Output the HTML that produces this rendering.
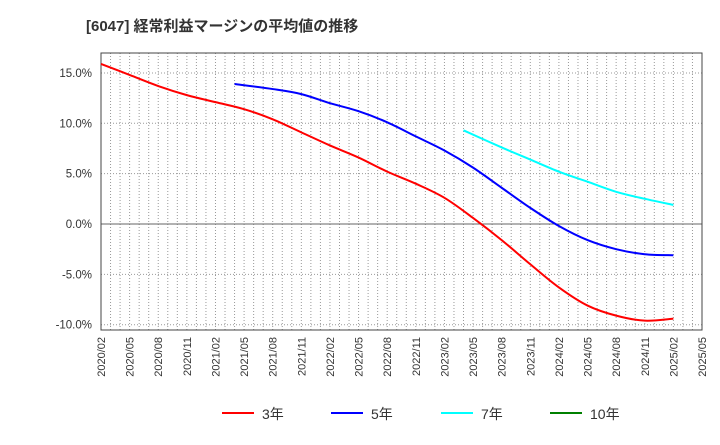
<!DOCTYPE html>
<html><head><meta charset="utf-8"><style>
body{margin:0;background:#fff;width:720px;height:440px;overflow:hidden;font-family:"Liberation Sans","Noto Sans CJK JP",sans-serif}
svg text{font-family:"Liberation Sans","Noto Sans CJK JP",sans-serif}
</style></head><body>
<svg id="c" width="720" height="440">
<text x="86" y="31" font-size="15" font-weight="bold" fill="#333">[6047]  経常利益マージンの平均値の推移</text>
</svg>
<script>
const xTickLabels=["2020/02","2020/05","2020/08","2020/11","2021/02","2021/05","2021/08","2021/11","2022/02","2022/05","2022/08","2022/11","2023/02","2023/05","2023/08","2023/11","2024/02","2024/05","2024/08","2024/11","2025/02","2025/05"];
const yTicks=[15,10,5,0,-5,-10];
const s3Months=[0,3,6,9,12,15,18,21,24,27,30,33,36,39,42,45,48,51,54,57,60];
const s3=[15.9,14.8,13.7,12.8,12.1,11.4,10.4,9.1,7.8,6.6,5.2,4.0,2.6,0.6,-1.6,-4.0,-6.3,-8.1,-9.1,-9.6,-9.4];
const s5Months=[14,18,21,24,27,30,33,36,39,42,45,48,51,54,57,60];
const s5=[13.9,13.4,12.9,12.0,11.2,10.1,8.7,7.3,5.6,3.6,1.6,-0.2,-1.6,-2.5,-3.0,-3.1];
const s7Months=[38,42,45,48,51,54,57,60];
const s7=[9.3,7.6,6.4,5.2,4.2,3.2,2.5,1.9];
const legendLabels=["3年","5年","7年","10年"];
const NS="http://www.w3.org/2000/svg",svg=document.getElementById('c');
const L=101,R=702,T=53,B=330;
const X=m=>L+m*(R-L)/63;
const Y=v=>224-v*10.07;
function el(t,a,p){const e=document.createElementNS(NS,t);for(const k in a)e.setAttribute(k,a[k]);(p||svg).appendChild(e);return e;}
for(let m=1;m<63;m++){const g=el('line',{x1:X(m),x2:X(m),y1:T,y2:B,stroke:'#999','stroke-dasharray':'1,2','stroke-width':1});

}
yTicks.forEach(v=>{const g=el('line',{x1:L,x2:R,y1:Y(v),y2:Y(v),stroke:v===0?'#666':'#999','stroke-dasharray':v===0?'':'1,2','stroke-width':1});


const t=el('text',{x:92,y:Y(v)+4,'text-anchor':'end','font-size':11.5,fill:'#333'});t.textContent=v.toFixed(1)+'%';

});
xTickLabels.forEach((s,i)=>{const x=X(i*3);const t=el('text',{transform:`translate(${x+4},337) rotate(-90)`,'text-anchor':'end','font-size':11,fill:'#333'});t.textContent=s;

});
const fr=el('rect',{x:L,y:T,width:R-L,height:B-T,fill:'none',stroke:'#444','stroke-width':1});


function path(months,vals,color,name){const p=vals.map((v,i)=>[X(months[i]),Y(v)]);let d=`M${p[0][0]},${p[0][1]}`;
for(let i=0;i<p.length-1;i++){const p0=p[i-1]||p[i],p1=p[i],p2=p[i+1],p3=p[i+2]||p2;
d+=` C${p1[0]+(p2[0]-p0[0])/6},${p1[1]+(p2[1]-p0[1])/6} ${p2[0]-(p3[0]-p1[0])/6},${p2[1]-(p3[1]-p1[1])/6} ${p2[0]},${p2[1]}`;}
const e=el('path',{d,fill:'none',stroke:color,'stroke-width':2});

}
path(s3Months,s3,'#ff0000','series-3yr');
path(s5Months,s5,'#0000ff','series-5yr');
path(s7Months,s7,'#00ffff','series-7yr');
const cols=['#ff0000','#0000ff','#00ffff','#008000'],lx=[222,331,441,550];
legendLabels.forEach((s,i)=>{const g=el('g',{});


el('line',{x1:lx[i],x2:lx[i]+32,y1:413,y2:413,stroke:cols[i],'stroke-width':2},g);
const t=el('text',{x:lx[i]+40,y:419,'font-size':14,fill:'#333'},g);t.textContent=s;});
</script>
</body></html>
